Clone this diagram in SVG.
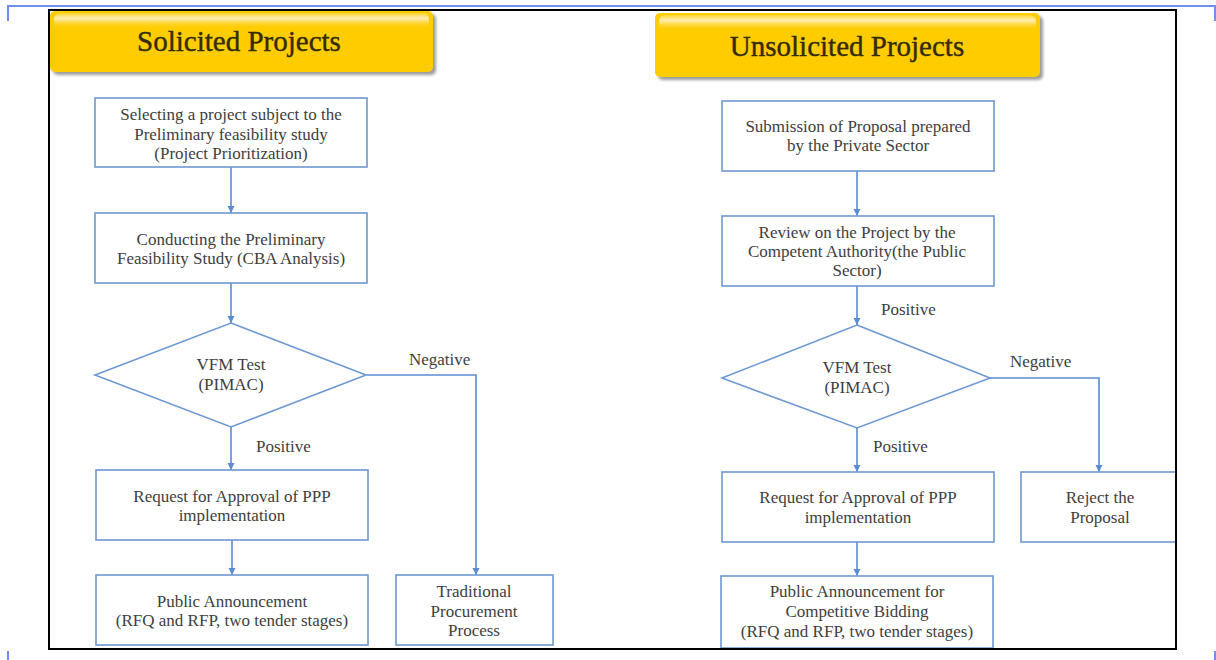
<svg xmlns="http://www.w3.org/2000/svg" width="1216" height="660" viewBox="0 0 1216 660">
  <defs>
    <style>
      .box { fill: #ffffff; stroke: #6e98d2; stroke-width: 1.6; }
      .dia { fill: #ffffff; stroke: #6e98d2; stroke-width: 1.6; }
      .txt { font-family: "Liberation Serif", "Times New Roman", serif; font-size: 17px; fill: #3e3e3e; text-anchor: middle; }
      .lbl { font-family: "Liberation Serif", "Times New Roman", serif; font-size: 17px; fill: #3e3e3e; }
      .title { font-family: "Liberation Serif", "Times New Roman", serif; font-size: 29px; fill: #332c06; stroke: #332c06; stroke-width: 0.4; text-anchor: middle; }
      .conn { fill: none; stroke: #5b8bd3; stroke-width: 1.6; }
      .banner { fill: #ffcc00; }
      .shadow { fill: #7a7a7a; opacity: 0.75; }
      .gloss { fill: url(#gloss); }
      .frame { fill: none; stroke: #000000; stroke-width: 2; }
      .edge { fill: none; stroke: #6f8ff0; stroke-width: 2; }
    </style>
    <linearGradient id="gloss" x1="0" y1="0" x2="0" y2="1">
      <stop offset="0" stop-color="#ffffff" stop-opacity="0.15"/>
      <stop offset="0.35" stop-color="#fff4d0" stop-opacity="0.85"/>
      <stop offset="1" stop-color="#ffcc00" stop-opacity="0"/>
    </linearGradient>
    <filter id="soft" x="-10%" y="-10%" width="120%" height="130%">
      <feGaussianBlur stdDeviation="1.5"/>
    </filter>
    <marker id="arrow" viewBox="0 0 10 10" refX="10" refY="5" markerWidth="4.5" markerHeight="4.5" orient="auto" markerUnits="strokeWidth">
      <path d="M0,0 L10,5 L0,10 z" fill="#5b8bd3"/>
    </marker>
  </defs>

  <!-- page edge marks -->
  <g id="page-edges">
    <path class="edge" d="M8,21 V6 H1215 V21"/>
    <path class="edge" d="M8,651 V660"/>
    <path class="edge" d="M1215,651 V660"/>
  </g>

  <!-- outer frame -->
  <rect id="frame" class="frame" x="49" y="10" width="1127" height="639"/>

  <!-- section banners -->
  <g id="banner-solicited">
    <rect class="shadow" x="53" y="14" width="383" height="61" rx="5" filter="url(#soft)"/>
    <rect class="banner" x="50" y="11" width="383" height="61" rx="5"/>
    <rect class="gloss" x="54" y="13" width="375" height="16" rx="6"/>
    <text class="title" x="239" y="51">Solicited Projects</text>
  </g>
  <g id="banner-unsolicited">
    <rect class="shadow" x="658" y="16" width="385" height="64" rx="5" filter="url(#soft)"/>
    <rect class="banner" x="655" y="13" width="385" height="64" rx="5"/>
    <rect class="gloss" x="659" y="15" width="377" height="16" rx="6"/>
    <text class="title" x="847" y="56">Unsolicited Projects</text>
  </g>

  <!-- connectors -->
  <g id="connectors">
    <path class="conn" d="M231,167 V213" marker-end="url(#arrow)"/>
    <path class="conn" d="M231,283 V323" marker-end="url(#arrow)"/>
    <path class="conn" d="M231,427 V470" marker-end="url(#arrow)"/>
    <path class="conn" d="M232,540 V575" marker-end="url(#arrow)"/>
    <path class="conn" d="M367,375 H476 V575" marker-end="url(#arrow)"/>

    <path class="conn" d="M857,171 V216" marker-end="url(#arrow)"/>
    <path class="conn" d="M857,286 V325" marker-end="url(#arrow)"/>
    <path class="conn" d="M857,428 V472" marker-end="url(#arrow)"/>
    <path class="conn" d="M857,542 V576" marker-end="url(#arrow)"/>
    <path class="conn" d="M990,378 H1099 V472" marker-end="url(#arrow)"/>

    <text class="lbl" x="409" y="365">Negative</text>
    <text class="lbl" x="256" y="452">Positive</text>
    <text class="lbl" x="881" y="315">Positive</text>
    <text class="lbl" x="1010" y="367">Negative</text>
    <text class="lbl" x="873" y="452">Positive</text>
  </g>

  <!-- solicited flow -->
  <g id="s-select">
    <rect class="box" x="95" y="98" width="272" height="69"/>
    <text class="txt" x="231" y="120">Selecting a project subject to the</text>
    <text class="txt" x="231" y="139.5">Preliminary feasibility study</text>
    <text class="txt" x="231" y="159">(Project Prioritization)</text>
  </g>
  <g id="s-study">
    <rect class="box" x="95" y="213" width="272" height="70"/>
    <text class="txt" x="231" y="245">Conducting the Preliminary</text>
    <text class="txt" x="231" y="264">Feasibility Study (CBA Analysis)</text>
  </g>
  <g id="s-vfm">
    <polygon class="dia" points="231,323 366,375 231,427 95,375"/>
    <text class="txt" x="231" y="370">VFM Test</text>
    <text class="txt" x="231" y="390">(PIMAC)</text>
  </g>
  <g id="s-approval">
    <rect class="box" x="96" y="470" width="272" height="70"/>
    <text class="txt" x="232" y="502">Request for Approval of PPP</text>
    <text class="txt" x="232" y="521">implementation</text>
  </g>
  <g id="s-announce">
    <rect class="box" x="96" y="575" width="272" height="70"/>
    <text class="txt" x="232" y="607">Public Announcement</text>
    <text class="txt" x="232" y="626">(RFQ and RFP, two tender stages)</text>
  </g>
  <g id="s-traditional">
    <rect class="box" x="396" y="575" width="157" height="70"/>
    <text class="txt" x="474" y="597">Traditional</text>
    <text class="txt" x="474" y="617">Procurement</text>
    <text class="txt" x="474" y="636">Process</text>
  </g>

  <!-- unsolicited flow -->
  <g id="u-submit">
    <rect class="box" x="722" y="101" width="272" height="70"/>
    <text class="txt" x="858" y="132">Submission of Proposal prepared</text>
    <text class="txt" x="858" y="151">by the Private Sector</text>
  </g>
  <g id="u-review">
    <rect class="box" x="722" y="216" width="272" height="70"/>
    <text class="txt" x="857" y="238">Review on the Project by the</text>
    <text class="txt" x="857" y="257">Competent Authority(the Public</text>
    <text class="txt" x="857" y="276">Sector)</text>
  </g>
  <g id="u-vfm">
    <polygon class="dia" points="857,325 990,378 857,428 722,378"/>
    <text class="txt" x="857" y="373">VFM Test</text>
    <text class="txt" x="857" y="393">(PIMAC)</text>
  </g>
  <g id="u-approval">
    <rect class="box" x="722" y="472" width="272" height="70"/>
    <text class="txt" x="858" y="503">Request for Approval of PPP</text>
    <text class="txt" x="858" y="523">implementation</text>
  </g>
  <g id="u-reject">
    <rect class="box" x="1021" y="472" width="155" height="70"/>
    <text class="txt" x="1100" y="503">Reject the</text>
    <text class="txt" x="1100" y="523">Proposal</text>
  </g>
  <g id="u-announce">
    <rect class="box" x="721" y="576" width="272" height="72"/>
    <text class="txt" x="857" y="597">Public Announcement  for</text>
    <text class="txt" x="857" y="617">Competitive Bidding</text>
    <text class="txt" x="857" y="637">(RFQ and RFP, two tender stages)</text>
  </g>

  <!-- frame edges redrawn over clipped boxes -->
  <path class="frame" d="M1176,470 V649 H700"/>
</svg>
